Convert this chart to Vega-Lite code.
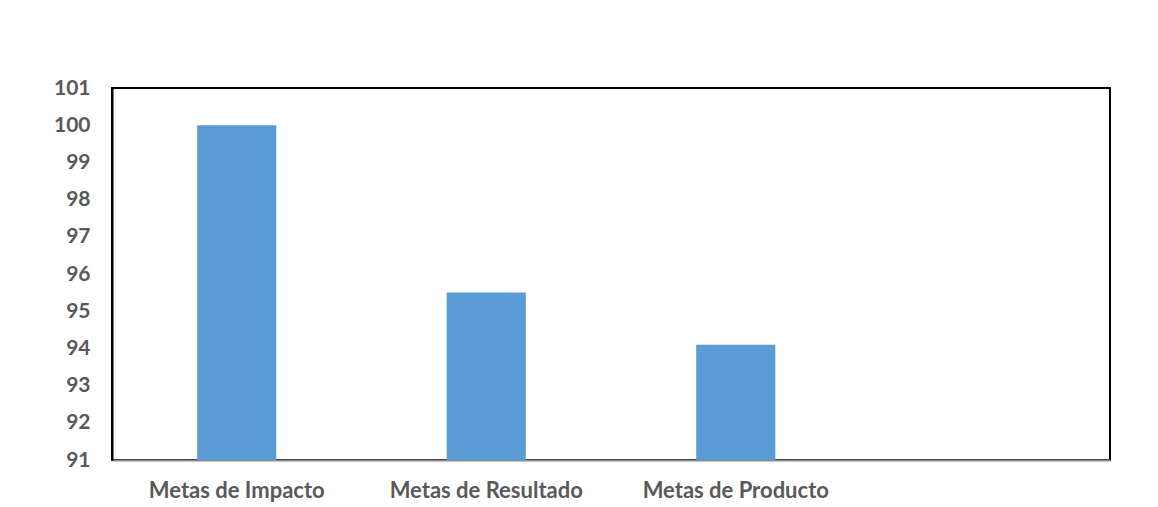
{
  "$schema": "https://vega.github.io/schema/vega-lite/v6.json",
  "width": 998,
  "height": 372,
  "autosize": {"type": "none"},
  "padding": {"left": 112, "top": 88, "right": 48, "bottom": 47},
  "background": "white",
  "data": {
    "values": [
      {"meta": "Metas de Impacto", "valor": 100},
      {"meta": "Metas de Resultado", "valor": 95.5},
      {"meta": "Metas de Producto", "valor": 94.1}
    ]
  },
  "mark": {"type": "bar", "color": "#5B9BD5", "clip": true},
  "encoding": {
    "x": {
      "field": "meta",
      "type": "nominal",
      "sort": null,
      "scale": {"domain": ["Metas de Impacto", "Metas de Resultado", "Metas de Producto", " "], "paddingInner": 0.683, "paddingOuter": 0.3415},
      "axis": {
        "title": null,
        "labelAngle": 0,
        "ticks": false,
        "labelPadding": 20,
        "labelLimit": 400,
        "labelFont": "Lato",
        "labelFontWeight": "bold",
        "labelFontSize": 22,
        "labelColor": "#595959",
        "domainColor": "#8c8c8c",
        "domainWidth": 2
      }
    },
    "y": {
      "field": "valor",
      "type": "quantitative",
      "scale": {"domain": [91, 101], "nice": false, "zero": false},
      "axis": {
        "title": null,
        "values": [91, 92, 93, 94, 95, 96, 97, 98, 99, 100, 101],
        "grid": false,
        "ticks": false,
        "labelPadding": 22,
        "labelFont": "Lato",
        "labelFontWeight": "bold",
        "labelFontSize": 21,
        "labelColor": "#595959",
        "domainColor": "black",
        "domainWidth": 2
      }
    }
  },
  "config": {
    "view": {"stroke": "black", "strokeWidth": 2}
  }
}
